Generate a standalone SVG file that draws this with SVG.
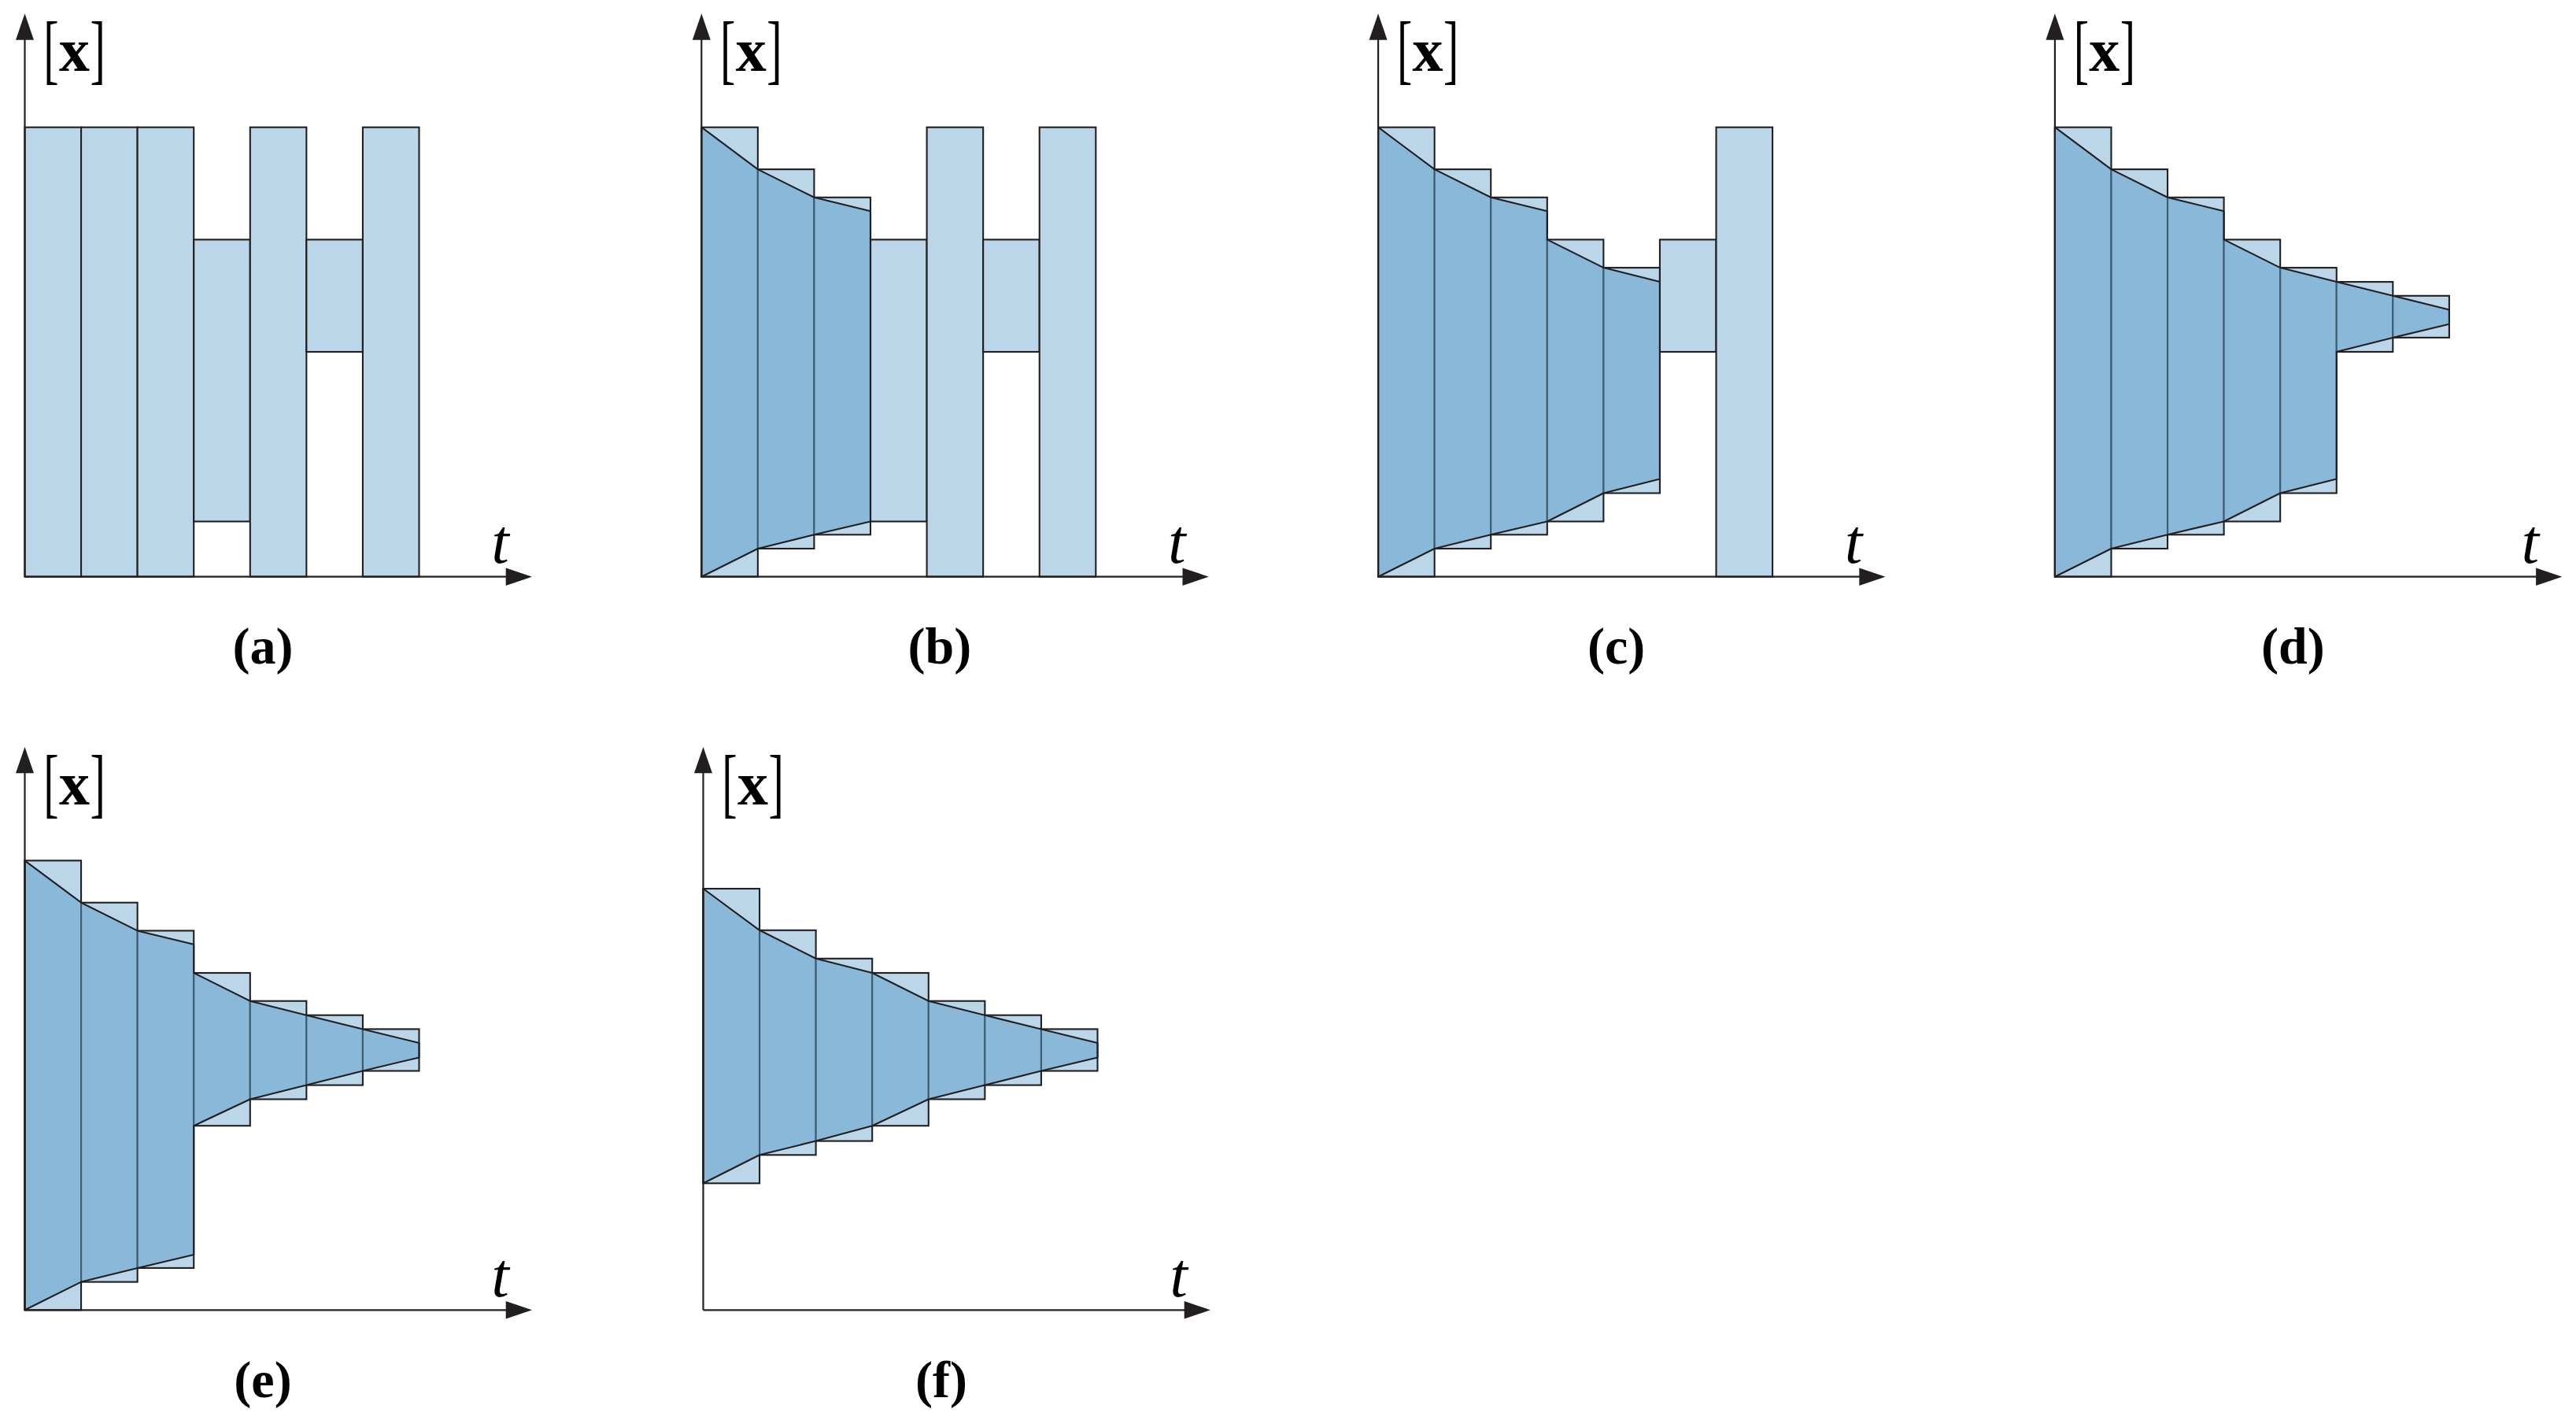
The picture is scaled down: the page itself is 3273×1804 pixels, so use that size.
<svg xmlns="http://www.w3.org/2000/svg" xmlns:xlink="http://www.w3.org/1999/xlink" width="3273" height="1804" viewBox="0 0 3273 1804">
<style>
.bar{fill:#BAD6E8;stroke:#231F20;stroke-width:2.1}
.flow{fill:#5799C8;fill-opacity:0.5;stroke:#231F20;stroke-width:2.1;stroke-linejoin:round}
.ax{stroke:#231F20;stroke-width:2.2;fill:none}
.head{fill:#231F20}
.br{font-family:"Liberation Serif",serif;font-size:97px;fill:#000}
.xv{font-family:"Liberation Serif",serif;font-size:78px;font-weight:bold;fill:#000}
.tv{font-family:"Liberation Serif",serif;font-size:80px;font-style:italic;fill:#000}
.cap{font-family:"Liberation Serif",serif;font-size:66px;font-weight:bold;fill:#000;text-anchor:middle}
</style>
<defs>
<g id="axes">
<line class="ax" x1="0" y1="0" x2="0" y2="-683"/>
<polygon class="head" points="-11.5,-682 11.5,-682 0,-715.4"/>
<line class="ax" x1="0" y1="0" x2="612" y2="0"/>
<polygon class="head" points="611.2,-11.3 611.2,11.3 644.5,0"/>
<text class="br" text-anchor="middle" transform="translate(33.5,-637.8) scale(0.6,1)">[</text>
<text class="xv" x="62.9" y="-642.7" text-anchor="middle">x</text>
<text class="br" text-anchor="middle" transform="translate(92.6,-637.8) scale(0.6,1)">]</text>
<text class="tv" x="604" y="-17.5" text-anchor="middle">t</text>
</g>
</defs>

<g id="panel-a" transform="translate(31.5,732.7)">
<rect class="bar" x="0" y="-571" width="71.57" height="571"/>
<rect class="bar" x="71.57" y="-571" width="71.57" height="571"/>
<rect class="bar" x="143.14" y="-571" width="71.57" height="571"/>
<rect class="bar" x="214.71" y="-428.3" width="71.57" height="358.1"/>
<rect class="bar" x="286.29" y="-571" width="71.57" height="571"/>
<rect class="bar" x="357.86" y="-428.3" width="71.57" height="142.6"/>
<rect class="bar" x="429.43" y="-571" width="71.57" height="571"/>
<use xlink:href="#axes"/>
<text class="cap" x="302.5" y="110.3">(a)</text>
</g>

<g id="panel-b" transform="translate(891.3,732.7)">
<rect class="bar" x="0" y="-571" width="71.57" height="571"/>
<rect class="bar" x="71.57" y="-517.6" width="71.57" height="481.9"/>
<rect class="bar" x="143.14" y="-481.9" width="71.57" height="428.5"/>
<rect class="bar" x="214.71" y="-428.3" width="71.57" height="358.1"/>
<rect class="bar" x="286.29" y="-571" width="71.57" height="571"/>
<rect class="bar" x="357.86" y="-428.3" width="71.57" height="142.6"/>
<rect class="bar" x="429.43" y="-571" width="71.57" height="571"/>
<polygon class="flow" points="0,-571 71.57,-517.6 143.14,-481.9 214.71,-464.5 214.71,-70.2 143.14,-53.4 71.57,-35.7 0,0"/>
<use xlink:href="#axes"/>
<text class="cap" x="302.5" y="110.3">(b)</text>
</g>

<g id="panel-c" transform="translate(1751.1,732.7)">
<rect class="bar" x="0" y="-571" width="71.57" height="571"/>
<rect class="bar" x="71.57" y="-517.6" width="71.57" height="481.9"/>
<rect class="bar" x="143.14" y="-481.9" width="71.57" height="428.5"/>
<rect class="bar" x="214.71" y="-428.3" width="71.57" height="358.1"/>
<rect class="bar" x="286.29" y="-392.6" width="71.57" height="286.4"/>
<rect class="bar" x="357.86" y="-428.3" width="71.57" height="142.6"/>
<rect class="bar" x="429.43" y="-571" width="71.57" height="571"/>
<polygon class="flow" points="0,-571 71.57,-517.6 143.14,-481.9 214.71,-464.5 214.71,-428.3 286.29,-392.6 357.86,-374.6 357.86,-124.2 286.29,-106.2 214.71,-70.2 143.14,-53.4 71.57,-35.7 0,0"/>
<use xlink:href="#axes"/>
<text class="cap" x="302.5" y="110.3">(c)</text>
</g>

<g id="panel-d" transform="translate(2610.9,732.7)">
<rect class="bar" x="0" y="-571" width="71.57" height="571"/>
<rect class="bar" x="71.57" y="-517.6" width="71.57" height="481.9"/>
<rect class="bar" x="143.14" y="-481.9" width="71.57" height="428.5"/>
<rect class="bar" x="214.71" y="-428.3" width="71.57" height="358.1"/>
<rect class="bar" x="286.29" y="-392.6" width="71.57" height="286.4"/>
<rect class="bar" x="357.86" y="-374.6" width="71.57" height="88.9"/>
<rect class="bar" x="429.43" y="-356.9" width="71.57" height="53.1"/>
<polygon class="flow" points="0,-571 71.57,-517.6 143.14,-481.9 214.71,-464.5 214.71,-428.3 286.29,-392.6 357.86,-374.6 429.43,-356.9 501,-339.2 501,-320.9 429.43,-303.8 357.86,-285.7 357.86,-124.2 286.29,-106.2 214.71,-70.2 143.14,-53.4 71.57,-35.7 0,0"/>
<use xlink:href="#axes"/>
<text class="cap" x="302.5" y="110.3">(d)</text>
</g>

<g id="panel-e" transform="translate(31.5,1664.3)">
<rect class="bar" x="0" y="-571" width="71.57" height="571"/>
<rect class="bar" x="71.57" y="-517.6" width="71.57" height="481.9"/>
<rect class="bar" x="143.14" y="-481.9" width="71.57" height="428.5"/>
<rect class="bar" x="214.71" y="-428.3" width="71.57" height="194.2"/>
<rect class="bar" x="286.29" y="-392.6" width="71.57" height="124.8"/>
<rect class="bar" x="357.86" y="-374.6" width="71.57" height="88.9"/>
<rect class="bar" x="429.43" y="-356.9" width="71.57" height="53.1"/>
<polygon class="flow" points="0,-571 71.57,-517.6 143.14,-481.9 214.71,-464.5 214.71,-428.3 286.29,-392.6 357.86,-374.6 429.43,-356.9 501,-339.2 501,-320.9 429.43,-303.8 357.86,-285.7 286.29,-267.8 214.71,-234.1 214.71,-70.2 143.14,-53.4 71.57,-35.7 0,0"/>
<use xlink:href="#axes"/>
<text class="cap" x="302.5" y="110.3">(e)</text>
</g>

<g id="panel-f" transform="translate(893.5,1664.3)">
<rect class="bar" x="0" y="-535.3" width="71.57" height="374.3"/>
<rect class="bar" x="71.57" y="-482.5" width="71.57" height="285.5"/>
<rect class="bar" x="143.14" y="-446.5" width="71.57" height="231.8"/>
<rect class="bar" x="214.71" y="-428.3" width="71.57" height="194.2"/>
<rect class="bar" x="286.29" y="-392.6" width="71.57" height="124.8"/>
<rect class="bar" x="357.86" y="-374.6" width="71.57" height="88.9"/>
<rect class="bar" x="429.43" y="-356.9" width="71.57" height="53.1"/>
<polygon class="flow" points="0,-535.3 71.57,-482.5 143.14,-446.5 214.71,-428.3 286.29,-392.6 357.86,-374.6 429.43,-356.9 501,-339.2 501,-320.9 429.43,-303.8 357.86,-285.7 286.29,-267.8 214.71,-234.1 143.14,-214.7 71.57,-197 0,-161"/>
<use xlink:href="#axes"/>
<text class="cap" x="302.5" y="110.3">(f)</text>
</g>
</svg>
